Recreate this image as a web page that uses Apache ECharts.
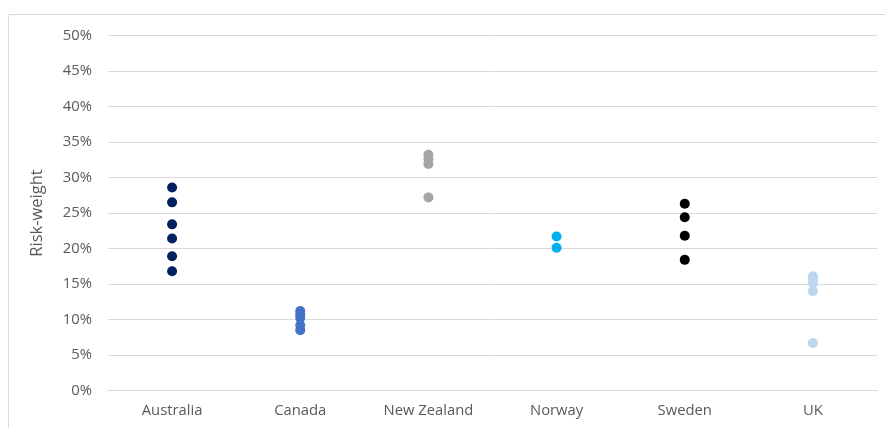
<!DOCTYPE html>
<html>
<head>
<meta charset="utf-8">
<script src="https://cdn.jsdelivr.net/npm/echarts@6/dist/echarts.min.js"></script>
<style>html,body{margin:0;padding:0;background:#fff}#c{width:885px;height:428px}</style>
</head>
<body>
<div id="c"></div>
<script>
const categories = ['Australia', 'Canada', 'New Zealand', 'Norway', 'Sweden', 'UK'];
const australia = [28.6, 26.5, 23.4, 21.4, 18.9, 16.8];
const canada = [11.2, 10.7, 10.2, 9.2, 8.5];
const newZealand = [33.2, 32.6, 31.9, 27.2];
const norway = [21.7, 20.1];
const sweden = [26.3, 24.4, 21.8, 18.4];
const uk = [16.1, 15.6, 15.1, 14.0, 6.7];
const yTicks = [0, 5, 10, 15, 20, 25, 30, 35, 40, 45, 50];
const colors = ['#002060', '#4472C4', '#A5A5A5', '#00B0F0', '#000000', '#BDD7EE'];
const seriesValues = [australia, canada, newZealand, norway, sweden, uk];

const chart = echarts.init(document.getElementById('c'));
chart.setOption({
  animation: false,
  textStyle: {fontFamily: 'Open Sans'},
  graphic: [{type: 'rect', shape: {x: 8.5, y: 14.5, width: 890, height: 430}, style: {fill: 'none', stroke: '#D9D9D9', lineWidth: 1}, silent: true}],
  grid: {left: 108, right: 8, top: 35.5, bottom: 37.5},
  xAxis: {
    type: 'category', data: categories, boundaryGap: true,
    axisLine: {show: true, lineStyle: {color: '#D9D9D9'}}, axisTick: {show: false},
    axisLabel: {color: '#595959', fontSize: 14.8, margin: 13}
  },
  yAxis: {
    type: 'value', min: yTicks[0], max: yTicks[yTicks.length - 1], interval: 5,
    name: 'Risk-weight', nameLocation: 'middle', nameGap: 62, nameRotate: 90,
    nameTextStyle: {color: '#595959', fontSize: 16.5},
    axisLabel: {color: '#595959', fontSize: 14.8, margin: 16, formatter: v => v + '%'},
    axisLine: {show: false}, axisTick: {show: false},
    splitLine: {lineStyle: {color: '#D9D9D9', width: 1}}
  },
  series: categories.map((c, i) => ({
    type: 'scatter', name: c, symbolSize: 10,
    itemStyle: {color: colors[i], opacity: 1},
    data: seriesValues[i].map(v => [c, v])
  }))
});
</script>
</body>
</html>
